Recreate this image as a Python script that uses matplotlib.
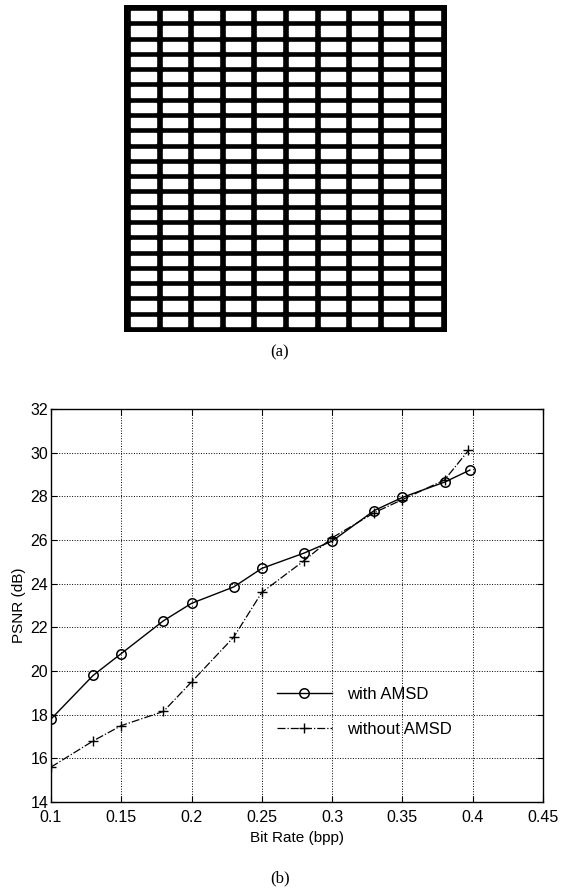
import matplotlib
matplotlib.use('Agg')
import matplotlib.pyplot as plt
from matplotlib.patches import Rectangle

# (a) test pattern: white blocks on black
n_cols = 10
n_rows = 21

# (b) PSNR vs bit rate
rate_with = [0.10, 0.13, 0.15, 0.18, 0.20, 0.23, 0.25, 0.28, 0.30, 0.33, 0.35, 0.38, 0.398]
psnr_with = [17.8, 19.8, 20.8, 22.3, 23.1, 23.85, 24.7, 25.4, 25.95, 27.35, 27.95, 28.65, 29.2]
rate_without = [0.10, 0.13, 0.15, 0.18, 0.20, 0.23, 0.25, 0.28, 0.30, 0.33, 0.35, 0.38, 0.397]
psnr_without = [15.6, 16.8, 17.5, 18.15, 19.5, 21.55, 23.6, 25.05, 26.1, 27.25, 27.85, 28.75, 30.1]
xticks = [0.1, 0.15, 0.2, 0.25, 0.3, 0.35, 0.4, 0.45]
xtick_labels = ['0.1', '0.15', '0.2', '0.25', '0.3', '0.35', '0.4', '0.45']
yticks = [14, 16, 18, 20, 22, 24, 26, 28, 30, 32]

plt.rcParams['font.family'] = ['Liberation Sans', 'DejaVu Sans']

fig = plt.figure(figsize=(5.62, 8.9), dpi=100)

# ---- (a) ----
ax_a = fig.add_axes([0.2206, 0.6270, 0.5747, 0.3674])
W, H = 323.0, 327.0
gx, gy = 7.0, 6.0
cw = (W - (n_cols + 1) * gx) / n_cols
ch = (H - (n_rows + 1) * gy) / n_rows
ax_a.add_patch(Rectangle((0, 0), W, H, color='black'))
for i in range(n_cols):
    for j in range(n_rows):
        ax_a.add_patch(Rectangle((gx + i * (cw + gx), gy + j * (ch + gy)), cw, ch,
                                 color='white'))
ax_a.set_xlim(0, W)
ax_a.set_ylim(0, H)
ax_a.axis('off')
fig.text(0.498, 1 - 352 / 890, '(a)', family='Liberation Serif', fontsize=12,
         ha='center', va='center')

# ---- (b) ----
ax = fig.add_axes([0.0907, 0.0988, 0.8754, 0.4417])
ax.plot(rate_with, psnr_with, '-', color='black', lw=1.0, marker='o',
        markersize=6.8, markerfacecolor='none', markeredgewidth=1.1,
        label='with AMSD')
ax.plot(rate_without, psnr_without, '-.', color='black', lw=0.9, marker='+',
        markersize=7.5, markeredgewidth=1.0, label='without AMSD')
ax.set_xlim(0.1, 0.45)
ax.set_ylim(14, 32)
ax.set_xticks(xticks)
ax.set_xticklabels(xtick_labels)
ax.set_yticks(yticks)
ax.tick_params(direction='in', top=True, right=True, labelsize=11.5, length=4)
ax.tick_params(axis='x', pad=6)
ax.tick_params(axis='y', pad=2)
ax.grid(True, color='black', linestyle=':', lw=0.7)
for s in ax.spines.values():
    s.set_linewidth(1.0)
ax.set_xlabel('Bit Rate (bpp)', fontsize=11, labelpad=4)
ax.set_ylabel('PSNR (dB)', fontsize=11, labelpad=3)
ax.legend(loc='upper left', bbox_to_anchor=(0.428, 0.332), frameon=False,
          fontsize=12, handlelength=3.35, handletextpad=0.9, labelspacing=1.2)
fig.text(0.498, 1 - 878 / 890, '(b)', family='Liberation Serif', fontsize=12,
         ha='center', va='center')

fig.savefig('out.png', dpi=100)
